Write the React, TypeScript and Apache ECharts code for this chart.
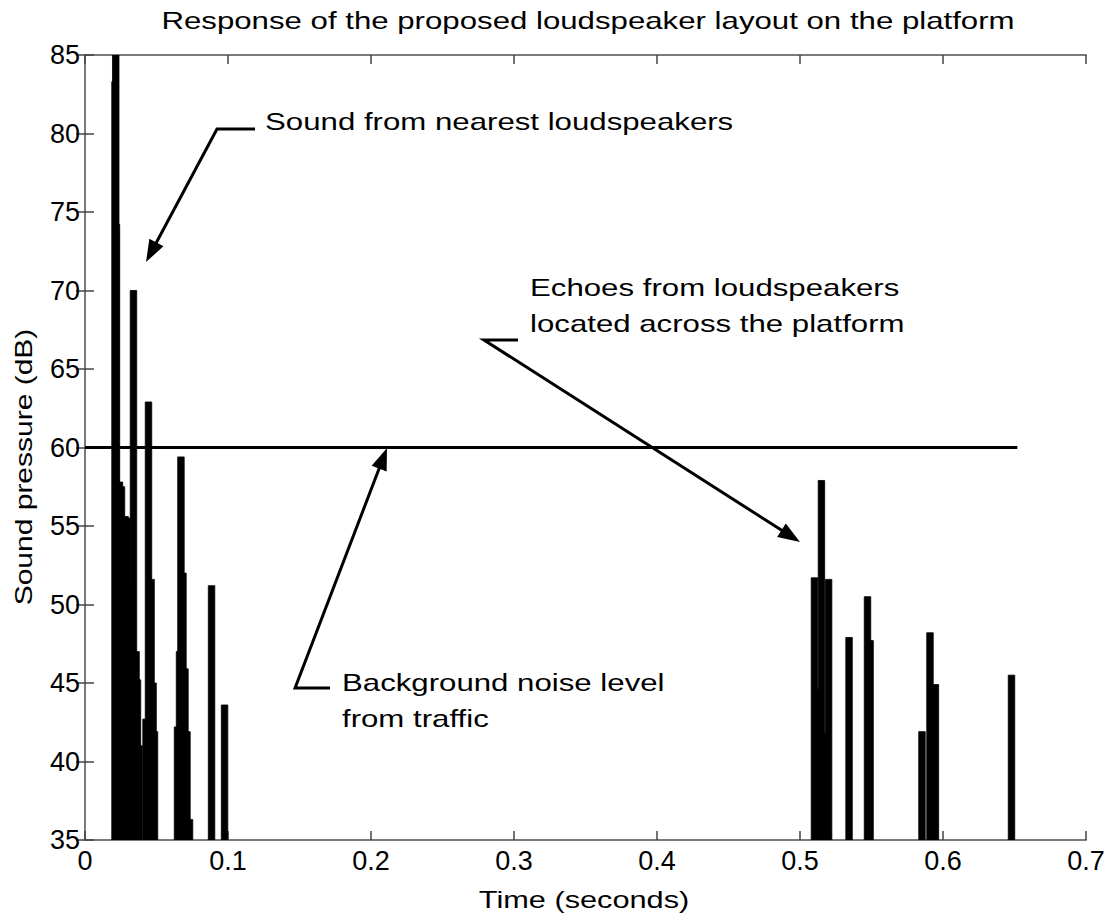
import React, { useEffect, useRef } from "react";
import * as echarts from "echarts";

// ---- data ----
const xMax = 0.7;
const yMin = 35;
const yMax = 85;

// impulse times (s) and peak sound pressure levels (dB)
const spikeTimes = [
  0.021, 0.0215, 0.022, 0.0241, 0.0255, 0.0266, 0.028, 0.0294, 0.0308, 0.0322,
  0.0339, 0.0357, 0.0367, 0.0378, 0.0427, 0.0444, 0.0462, 0.0476, 0.0486,
  0.0647, 0.0661, 0.0671, 0.0685, 0.0699, 0.0713, 0.0731, 0.0885, 0.0976,
  0.5101, 0.5122, 0.515, 0.5175, 0.52, 0.5343, 0.5472, 0.549,
  0.5853, 0.5909, 0.5947, 0.6479,
];
const spikeLevels = [
  83.3, 85, 74.2, 57.8, 57.5, 51, 55.6, 55.5, 51, 48,
  70, 47, 45.2, 41, 42.7, 62.9, 51.6, 45, 41.9,
  42.2, 47, 59.4, 52, 45.9, 41.9, 36.3, 51.2, 43.6,
  51.7, 44.6, 57.9, 41.8, 51.6, 47.9, 50.5, 47.7,
  41.9, 48.2, 44.9, 45.5,
];

// background noise level line
const noiseLevel = 60;
const noiseLineEnd = 0.652;

// annotations: text lines, text anchor (data coords), arrow polyline (data coords, last = tip)
const annotations = [
  {
    lines: ["Sound from nearest loudspeakers"],
    textAt: [0.1259, 80.75],
    arrow: [
      [0.1189, 80.29],
      [0.0923, 80.29],
      [0.0427, 71.82],
    ],
  },
  {
    lines: ["Echoes from loudspeakers", "located across the platform"],
    textAt: [0.3112, 70.2],
    arrow: [
      [0.3028, 66.85],
      [0.279, 66.85],
      [0.5, 53.98],
    ],
  },
  {
    lines: ["Background noise level", "from traffic"],
    textAt: [0.1797, 45.0],
    arrow: [
      [0.1713, 44.68],
      [0.1469, 44.68],
      [0.2112, 59.97],
    ],
  },
];

const FONT = '"Liberation Sans", Arial, Helvetica, sans-serif';
const SX = 1.3;

export default function App() {
  const ref = useRef<HTMLDivElement>(null);

  useEffect(() => {
    document.body.style.margin = "0";
    const el = ref.current!;
    const chart = echarts.init(el, undefined, { renderer: "svg" });

    const spikeData = spikeTimes.map((t, i) => [t, spikeLevels[i]]);

    const axisLineStyle = { color: "#7a7a7a", width: 2 };
    const tickStyle = { color: "#444", width: 1.5 };

    chart.setOption({
      animation: false,
      backgroundColor: "#fff",
      grid: { left: 85, right: 28, top: 55, bottom: 80, containLabel: false },
      xAxis: [
        {
          type: "value",
          min: 0,
          max: xMax,
          interval: 0.1,
          axisLine: { show: true, lineStyle: axisLineStyle },
          axisTick: { show: true, inside: true, length: 9, lineStyle: tickStyle },
          axisLabel: {
            fontFamily: FONT,
            fontSize: 27,
            color: "#000",
            margin: 7,
            formatter: (v: number) => (Math.round(v * 10) / 10).toString(),
          },
          splitLine: { show: false },
        },
        {
          type: "value",
          position: "top",
          min: 0,
          max: xMax,
          interval: 0.1,
          axisLine: { show: true, lineStyle: axisLineStyle },
          axisTick: { show: true, inside: true, length: 9, lineStyle: tickStyle },
          axisLabel: { show: false },
          splitLine: { show: false },
        },
      ],
      yAxis: [
        {
          type: "value",
          min: yMin,
          max: yMax,
          interval: 5,
          axisLine: { show: true, lineStyle: axisLineStyle },
          axisTick: { show: true, inside: true, length: 9, lineStyle: tickStyle },
          axisLabel: { fontFamily: FONT, fontSize: 27, color: "#000", margin: 5 },
          splitLine: { show: false },
        },
        {
          type: "value",
          position: "right",
          min: yMin,
          max: yMax,
          interval: 5,
          axisLine: { show: true, lineStyle: axisLineStyle },
          axisTick: { show: true, inside: true, length: 9, lineStyle: tickStyle },
          axisLabel: { show: false },
          splitLine: { show: false },
        },
      ],
      series: [
        {
          type: "custom",
          xAxisIndex: 0,
          yAxisIndex: 0,
          clip: true,
          data: spikeData,
          renderItem: (params: any, api: any) => {
            const t = api.value(0);
            const v = api.value(1);
            const top = api.coord([t, v]);
            const base = api.coord([t, yMin]);
            const w = 6.5;
            return {
              type: "rect",
              shape: { x: top[0] - w / 2, y: top[1], width: w, height: base[1] - top[1] },
              style: { fill: "#000", stroke: "#000", lineWidth: 0.8 },
            };
          },
        },
        {
          type: "line",
          xAxisIndex: 0,
          yAxisIndex: 0,
          data: [
            [0, noiseLevel],
            [noiseLineEnd, noiseLevel],
          ],
          symbol: "none",
          lineStyle: { color: "#000", width: 3 },
        },
      ],
    });

    const toPx = (p: number[]) =>
      chart.convertToPixel({ xAxisIndex: 0, yAxisIndex: 0 }, p) as number[];

    const textStyle = (text: string, align: string) => ({
      text,
      fill: "#000",
      fontFamily: FONT,
      fontSize: 24,
      align,
      verticalAlign: "middle",
    });

    const graphics: any[] = [];
    // title
    graphics.push({
      type: "text",
      x: 588,
      y: 21,
      scaleX: SX,
      style: textStyle("Response of the proposed loudspeaker layout on the platform", "center"),
    });
    // x axis name
    graphics.push({
      type: "text",
      x: 584,
      y: 900,
      scaleX: 1.28,
      style: textStyle("Time (seconds)", "center"),
    });
    // y axis name
    graphics.push({
      type: "text",
      x: 24,
      y: 467,
      rotation: Math.PI / 2,
      scaleX: 1.25,
      style: textStyle("Sound pressure (dB)", "center"),
    });

    annotations.forEach((a) => {
      const tp = toPx(a.textAt);
      a.lines.forEach((line, i) => {
        graphics.push({
          type: "text",
          x: tp[0],
          y: tp[1] + i * 36,
          scaleX: SX,
          style: textStyle(line, "left"),
        });
      });
      const pts = a.arrow.map(toPx);
      const tip = pts[pts.length - 1];
      const prev = pts[pts.length - 2];
      const dx = tip[0] - prev[0];
      const dy = tip[1] - prev[1];
      const len = Math.sqrt(dx * dx + dy * dy);
      const ux = dx / len;
      const uy = dy / len;
      const hl = 22;
      const hw = 8;
      const bx = tip[0] - ux * hl;
      const by = tip[1] - uy * hl;
      const linePts = pts.slice(0, -1).concat([[bx + ux * 4, by + uy * 4]]);
      graphics.push({
        type: "polyline",
        shape: { points: linePts },
        style: { stroke: "#000", lineWidth: 3, fill: "none" },
      });
      graphics.push({
        type: "polygon",
        shape: {
          points: [tip, [bx - uy * hw, by + ux * hw], [bx + uy * hw, by - ux * hw]],
        },
        style: { fill: "#000" },
      });
    });

    chart.setOption({ graphic: graphics });

    return () => {
      chart.dispose();
    };
  }, []);

  return <div ref={ref} style={{ width: 1114, height: 920 }} />;
}
